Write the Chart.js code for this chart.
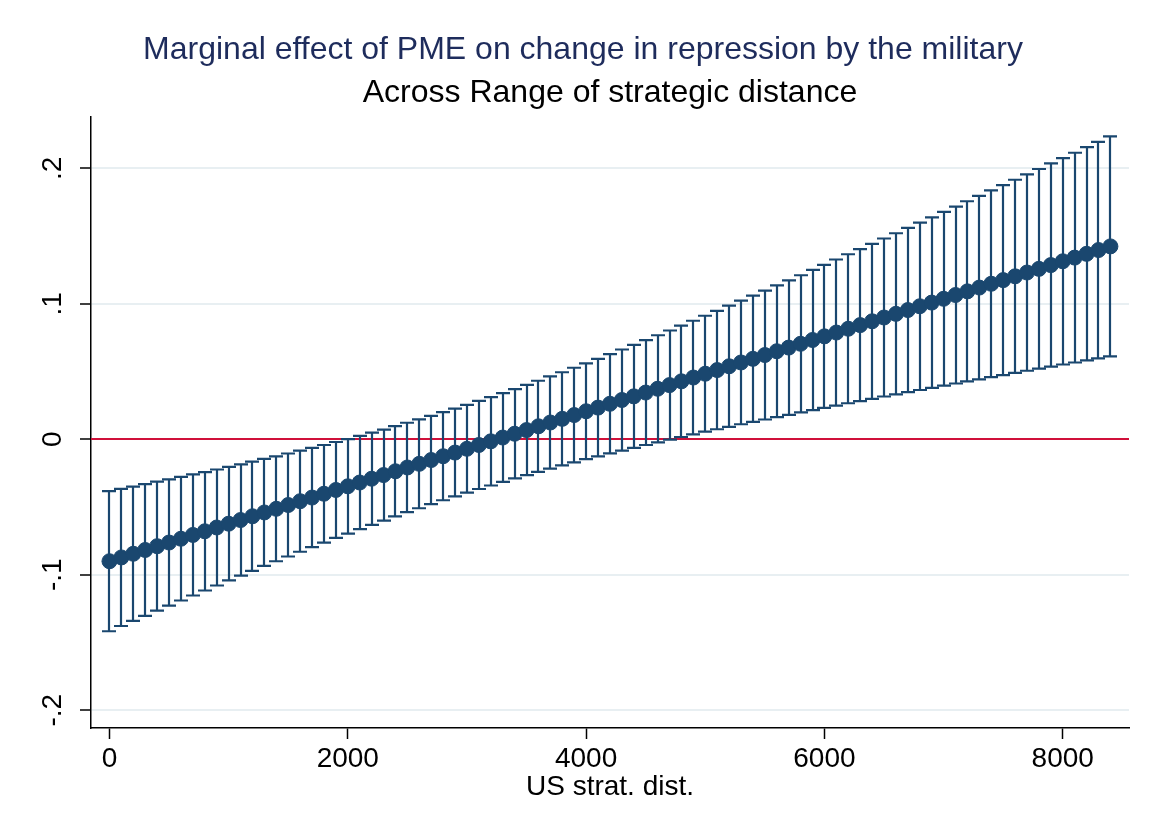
<!DOCTYPE html>
<html>
<head>
<meta charset="utf-8">
<script src="https://cdn.jsdelivr.net/npm/chart.js@4.4.1/dist/chart.umd.min.js"></script>
<style>
  html, body { margin: 0; padding: 0; background: #ffffff; }
  #wrap { width: 1153px; height: 839px; }
</style>
</head>
<body>
<div id="wrap"><canvas id="c" width="1153" height="839"></canvas></div>
<script>
// US strategic distance at which the marginal effect is evaluated
const strategicDistance = [
  0, 100, 200, 300, 400, 500, 600, 700, 800, 900,
  1000, 1100, 1200, 1300, 1400, 1500, 1600, 1700, 1800, 1900,
  2000, 2100, 2200, 2300, 2400, 2500, 2600, 2700, 2800, 2900,
  3000, 3100, 3200, 3300, 3400, 3500, 3600, 3700, 3800, 3900,
  4000, 4100, 4200, 4300, 4400, 4500, 4600, 4700, 4800, 4900,
  5000, 5100, 5200, 5300, 5400, 5500, 5600, 5700, 5800, 5900,
  6000, 6100, 6200, 6300, 6400, 6500, 6600, 6700, 6800, 6900,
  7000, 7100, 7200, 7300, 7400, 7500, 7600, 7700, 7800, 7900,
  8000, 8100, 8200, 8300, 8400
];

// Marginal effect of PME (point estimate)
const marginalEffect = [
  -0.0900, -0.0872, -0.0845, -0.0817, -0.0789, -0.0762, -0.0734, -0.0706, -0.0679, -0.0651,
  -0.0623, -0.0596, -0.0568, -0.0540, -0.0513, -0.0485, -0.0457, -0.0430, -0.0402, -0.0374,
  -0.0347, -0.0319, -0.0291, -0.0264, -0.0236, -0.0208, -0.0181, -0.0153, -0.0125, -0.0098,
  -0.0070, -0.0042, -0.0015, 0.0013, 0.0041, 0.0068, 0.0096, 0.0124, 0.0151, 0.0179,
  0.0207, 0.0234, 0.0262, 0.0290, 0.0317, 0.0345, 0.0373, 0.0400, 0.0428, 0.0456,
  0.0484, 0.0511, 0.0539, 0.0567, 0.0594, 0.0622, 0.0650, 0.0677, 0.0705, 0.0733,
  0.0760, 0.0788, 0.0816, 0.0843, 0.0871, 0.0899, 0.0926, 0.0954, 0.0982, 0.1009,
  0.1037, 0.1065, 0.1092, 0.1120, 0.1148, 0.1175, 0.1203, 0.1231, 0.1258, 0.1286,
  0.1314, 0.1341, 0.1369, 0.1397, 0.1424
];

// Lower bound of the 95% confidence interval
const ciLower = [
  -0.1417, -0.1378, -0.1341, -0.1303, -0.1265, -0.1228, -0.1190, -0.1153, -0.1116, -0.1079,
  -0.1042, -0.1007, -0.0971, -0.0935, -0.0900, -0.0865, -0.0830, -0.0796, -0.0762, -0.0728,
  -0.0696, -0.0663, -0.0631, -0.0600, -0.0569, -0.0538, -0.0509, -0.0479, -0.0450, -0.0422,
  -0.0394, -0.0367, -0.0341, -0.0315, -0.0289, -0.0265, -0.0240, -0.0216, -0.0193, -0.0170,
  -0.0147, -0.0126, -0.0104, -0.0083, -0.0063, -0.0042, -0.0022, -0.0003, 0.0017, 0.0037,
  0.0056, 0.0074, 0.0092, 0.0111, 0.0128, 0.0146, 0.0164, 0.0181, 0.0199, 0.0216,
  0.0232, 0.0249, 0.0266, 0.0282, 0.0299, 0.0316, 0.0331, 0.0348, 0.0364, 0.0380,
  0.0396, 0.0412, 0.0427, 0.0443, 0.0459, 0.0474, 0.0490, 0.0506, 0.0521, 0.0536,
  0.0552, 0.0567, 0.0582, 0.0598, 0.0612
];

// Upper bound of the 95% confidence interval
const ciUpper = [
  -0.0383, -0.0366, -0.0349, -0.0331, -0.0313, -0.0296, -0.0278, -0.0259, -0.0242, -0.0223,
  -0.0204, -0.0185, -0.0165, -0.0145, -0.0126, -0.0105, -0.0084, -0.0064, -0.0042, -0.0020,
  0.0002, 0.0025, 0.0049, 0.0072, 0.0097, 0.0122, 0.0147, 0.0173, 0.0200, 0.0226,
  0.0254, 0.0283, 0.0311, 0.0341, 0.0371, 0.0401, 0.0432, 0.0464, 0.0495, 0.0528,
  0.0561, 0.0594, 0.0628, 0.0663, 0.0697, 0.0732, 0.0768, 0.0803, 0.0839, 0.0875,
  0.0912, 0.0948, 0.0986, 0.1023, 0.1060, 0.1098, 0.1136, 0.1173, 0.1211, 0.1250,
  0.1288, 0.1327, 0.1366, 0.1404, 0.1443, 0.1482, 0.1521, 0.1560, 0.1600, 0.1638,
  0.1678, 0.1718, 0.1757, 0.1797, 0.1837, 0.1876, 0.1916, 0.1956, 0.1995, 0.2036,
  0.2076, 0.2115, 0.2156, 0.2196, 0.2236
];

// Axis ticks
const xTickValues = [0, 2000, 4000, 6000, 8000];
const xTickLabels = ['0', '2000', '4000', '6000', '8000'];
const yTickValues = [-0.2, -0.1, 0, 0.1, 0.2];
const yTickLabels = ['-.2', '-.1', '0', '.1', '.2'];
const referenceValue = 0;

const NAVY = '#1a476f';
const FONT = "'Liberation Sans', Arial, Helvetica, sans-serif";
Chart.defaults.font.family = FONT;
Chart.defaults.color = '#000000';

// Reference line at zero plus the confidence-interval whiskers with caps
const ciPlugin = {
  id: 'ciWhiskers',
  beforeDatasetsDraw(chart) {
    const { ctx, chartArea, scales: { x, y } } = chart;
    ctx.save();
    // horizontal reference line
    const y0 = Math.round(y.getPixelForValue(referenceValue));
    ctx.strokeStyle = '#d0103a';
    ctx.lineWidth = 2;
    ctx.beginPath();
    ctx.moveTo(chartArea.left, y0);
    ctx.lineTo(chartArea.right, y0);
    ctx.stroke();

    // whiskers
    ctx.strokeStyle = NAVY;
    ctx.lineWidth = 2.2;
    const capHalf = 7;
    for (let i = 0; i < strategicDistance.length; i++) {
      const px = Math.round(x.getPixelForValue(strategicDistance[i]));
      const pLo = y.getPixelForValue(ciLower[i]);
      const pHi = y.getPixelForValue(ciUpper[i]);
      ctx.beginPath();
      ctx.moveTo(px, pLo);
      ctx.lineTo(px, pHi);
      ctx.moveTo(px - capHalf, pLo);
      ctx.lineTo(px + capHalf, pLo);
      ctx.moveTo(px - capHalf, pHi);
      ctx.lineTo(px + capHalf, pHi);
      ctx.stroke();
    }
    ctx.restore();
  }
};

const points = strategicDistance.map((d, i) => ({ x: d, y: marginalEffect[i] }));

new Chart(document.getElementById('c'), {
  type: 'line',
  data: {
    datasets: [{
      data: points,
      borderColor: NAVY,
      backgroundColor: NAVY,
      borderWidth: 2,
      pointRadius: 7.5,
      pointBorderWidth: 1,
      pointBackgroundColor: NAVY,
      pointBorderColor: NAVY,
      tension: 0
    }]
  },
  plugins: [ciPlugin],
  options: {
    responsive: false,
    animation: false,
    devicePixelRatio: 1,
    layout: { padding: { left: 37, right: 24, top: 0, bottom: 0 } },
    plugins: {
      legend: { display: false },
      tooltip: { enabled: false },
      title: {
        display: true,
        text: 'Marginal effect of PME on change in repression by the military',
        color: '#1e2c5c',
        font: { size: 32, weight: 'normal', lineHeight: 1.2 },
        padding: { top: 31, bottom: 0 }
      },
      subtitle: {
        display: true,
        fullSize: false,
        text: 'Across Range of strategic distance',
        color: '#000000',
        font: { size: 32, weight: 'normal', lineHeight: 1.2 },
        padding: { top: 4.4, bottom: 4.8 }
      }
    },
    scales: {
      x: {
        type: 'linear',
        min: -155,
        max: 8556,
        afterBuildTicks: (s) => { s.ticks = xTickValues.map(v => ({ value: v })); },
        afterFit: (s) => { s.height = 111; },
        ticks: {
          font: { size: 28 },
          color: '#000000',
          padding: 3,
          maxRotation: 0,
          callback: (v) => xTickLabels[xTickValues.indexOf(v)]
        },
        grid: {
          drawOnChartArea: false,
          drawTicks: true,
          tickLength: 11,
          tickColor: '#000000',
          tickWidth: 1.5
        },
        border: { display: true, color: '#000000', width: 1.5 },
        title: {
          display: true,
          text: 'US strat. dist.',
          color: '#000000',
          font: { size: 28, lineHeight: 1.2 },
          padding: { top: 0, bottom: 35 }
        }
      },
      y: {
        type: 'linear',
        min: -0.2131,
        max: 0.2379,
        afterBuildTicks: (s) => { s.ticks = yTickValues.map(v => ({ value: v })); },
        afterFit: (s) => { s.width = 54; },
        ticks: {
          font: { size: 28 },
          color: '#000000',
          padding: 10,
          minRotation: 90,
          maxRotation: 90,
          crossAlign: 'center',
          callback: (v) => yTickLabels[yTickValues.findIndex(t => Math.abs(t - v) < 1e-9)]
        },
        grid: {
          color: '#e8eff2',
          lineWidth: 2,
          drawTicks: true,
          tickLength: 11,
          tickColor: '#000000',
          tickWidth: 1.5
        },
        border: { display: true, color: '#000000', width: 1.5 }
      }
    }
  }
});
</script>
</body>
</html>
